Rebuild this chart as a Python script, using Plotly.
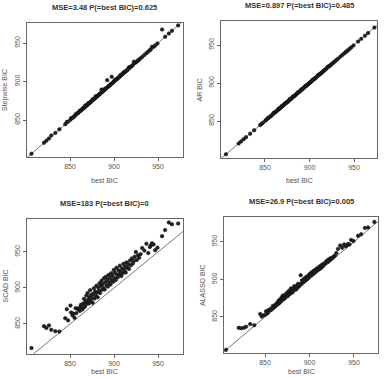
import plotly.graph_objects as go

best_bic = [
    806.2, 820.4, 823.1, 826.0, 828.7, 833.3, 837.9, 844.6, 846.3, 847.8,
    850.5, 851.2, 852.9, 853.6, 855.1, 856.4, 857.0, 858.8, 859.5, 860.9,
    861.7, 862.3, 863.8, 864.4, 865.2, 865.9, 866.7, 867.3, 868.1, 868.6,
    869.4, 870.0, 870.8, 871.5, 872.2, 872.9, 873.6, 874.3, 875.0, 875.7,
    876.5, 877.1, 877.9, 878.6, 879.2, 880.0, 880.7, 881.4, 882.1, 882.9,
    883.5, 884.2, 885.0, 885.8, 886.4, 887.1, 887.9, 888.6, 889.3, 890.1,
    890.8, 891.6, 892.3, 893.0, 893.8, 894.5, 895.2, 896.0, 896.7, 897.4,
    898.2, 899.0, 899.7, 900.5, 901.2, 902.0, 902.8, 903.5, 904.3, 905.1,
    905.9, 906.6, 907.4, 908.3, 909.1, 909.9, 910.8, 911.6, 912.5, 913.3,
    914.2, 915.0, 916.1, 917.0, 918.2, 919.1, 920.3, 921.4, 922.6, 923.5,
    924.8, 925.9, 927.3, 928.6, 930.2, 932.0, 934.5, 936.8, 938.9, 940.7,
    941.9, 943.2, 945.0, 946.8, 949.4, 954.6, 958.1, 962.3, 965.8, 972.9,
]

stepwise_bic = [
    806.2, 820.4, 823.1, 826.0, 829.9, 833.3, 837.9, 844.6, 847.5, 847.8,
    850.5, 852.4, 852.9, 853.6, 855.1, 856.4, 858.3, 858.8, 859.5, 862.0,
    861.7, 862.3, 863.8, 865.3, 865.2, 865.9, 866.7, 869.0, 868.1, 868.6,
    869.4, 870.0, 872.1, 871.5, 872.2, 872.9, 873.6, 874.3, 875.0, 876.9,
    876.5, 877.1, 877.9, 878.6, 881.0, 880.0, 880.7, 881.4, 882.1, 882.9,
    883.5, 884.2, 885.0, 889.5, 886.4, 887.1, 887.9, 888.6, 890.4, 890.1,
    890.8, 891.6, 901.8, 893.0, 893.8, 894.5, 895.2, 896.0, 896.7, 906.1,
    898.2, 899.0, 899.7, 900.5, 902.3, 902.0, 902.8, 903.5, 904.3, 905.1,
    905.9, 906.6, 908.6, 908.3, 909.1, 909.9, 912.0, 911.6, 912.5, 913.3,
    914.2, 915.0, 916.1, 918.6, 918.2, 919.1, 920.3, 921.4, 925.8, 924.1,
    924.8, 925.9, 927.3, 928.6, 930.2, 932.0, 934.5, 936.8, 938.9, 940.7,
    941.9, 945.1, 945.0, 946.8, 949.4, 967.5, 958.1, 962.3, 965.8, 972.9,
]

ar_bic = [
    806.2, 820.4, 823.1, 826.0, 828.7, 833.3, 837.9, 844.6, 846.3, 847.8,
    850.5, 851.2, 853.5, 853.6, 855.1, 856.4, 857.0, 858.8, 860.6, 860.9,
    861.7, 862.3, 863.8, 864.4, 866.0, 865.9, 866.7, 867.3, 868.1, 869.5,
    869.4, 870.0, 870.8, 871.5, 873.0, 872.9, 873.6, 874.3, 875.0, 875.7,
    876.5, 877.1, 878.8, 878.6, 879.2, 880.0, 880.7, 882.2, 882.1, 882.9,
    883.5, 884.2, 885.0, 885.8, 887.3, 887.1, 887.9, 888.6, 889.3, 890.1,
    891.6, 891.6, 892.3, 893.0, 893.8, 894.5, 896.1, 896.0, 896.7, 897.4,
    898.2, 899.0, 899.7, 900.5, 901.2, 902.0, 902.8, 904.4, 904.3, 905.1,
    905.9, 906.6, 907.4, 908.3, 909.1, 910.8, 910.8, 911.6, 912.5, 913.3,
    914.2, 915.0, 916.1, 917.0, 918.2, 919.1, 921.3, 921.4, 922.6, 923.5,
    924.8, 925.9, 927.3, 928.6, 930.2, 932.0, 934.5, 936.8, 938.9, 940.7,
    941.9, 943.2, 945.0, 946.8, 949.4, 954.6, 958.1, 962.3, 965.8, 972.9,
]

scad_bic = [
    816.5, 847.0, 844.5, 848.0, 842.0, 840.0, 839.5, 858.0, 870.5, 855.0,
    875.5, 866.0, 862.0, 864.5, 858.5, 872.0, 865.0, 871.5, 870.0, 868.0,
    873.0, 876.5, 870.0, 878.0, 872.5, 885.0, 874.0, 880.5, 877.0, 889.5,
    881.5, 893.0, 884.0, 878.5, 887.5, 897.0, 882.0, 890.5, 886.0, 879.5,
    892.0, 899.5, 885.5, 895.0, 889.0, 903.0, 893.5, 887.0, 900.5, 896.0,
    906.5, 893.0, 903.0, 910.0, 897.5, 905.5, 900.0, 913.5, 898.0, 908.0,
    915.5, 903.5, 911.0, 902.0, 918.0, 907.5, 914.0, 905.0, 920.5, 910.5,
    917.0, 908.5, 925.0, 913.5, 921.0, 911.0, 928.0, 918.5, 915.0, 924.5,
    919.0, 931.0, 922.5, 916.5, 927.0, 920.5, 933.5, 925.0, 930.0, 921.5,
    935.5, 928.0, 933.0, 926.5, 938.0, 931.5, 941.0, 934.0, 937.5, 943.5,
    950.0, 939.0, 945.5, 942.0, 947.0, 955.5, 952.0, 961.5, 948.5, 957.0,
    959.0, 962.0, 960.5, 952.5, 956.0, 972.0, 980.5, 991.0, 988.5, 989.5,
]

alasso_bic = [
    806.2, 835.5, 835.0, 835.5, 837.0, 840.5, 839.0, 854.0, 850.5, 852.0,
    853.0, 857.5, 855.0, 859.0, 858.5, 861.0, 859.5, 864.5, 862.0, 864.0,
    866.5, 865.0, 869.0, 867.0, 871.5, 868.5, 873.0, 870.0, 872.5, 876.0,
    873.0, 878.5, 874.0, 876.5, 875.0, 880.0, 877.5, 879.0, 882.5, 878.0,
    881.0, 885.0, 880.5, 883.5, 888.0, 884.0, 882.5, 887.5, 885.5, 891.0,
    887.0, 889.5, 886.5, 891.5, 889.0, 894.0, 890.5, 893.0, 893.0, 905.5,
    894.0, 898.5, 896.0, 899.0, 897.5, 901.5, 898.5, 900.0, 903.5, 900.5,
    904.0, 902.5, 906.5, 905.0, 908.0, 905.5, 909.5, 907.0, 911.0, 908.5,
    912.0, 910.0, 913.5, 911.5, 915.0, 913.0, 916.5, 914.0, 918.0, 915.5,
    919.5, 917.5, 921.0, 920.5, 922.0, 924.5, 923.0, 926.5, 925.0, 928.0,
    927.5, 929.0, 930.5, 931.5, 935.0, 940.5, 945.0, 942.0, 946.5, 944.0,
    945.5, 947.0, 946.5, 952.5, 951.0, 958.0, 960.0, 968.5, 969.0, 976.5,
]

titles = [
    "MSE=3.48 P(=best BIC)=0.625",
    "MSE=0.897 P(=best BIC)=0.485",
    "MSE=183 P(=best BIC)=0",
    "MSE=26.9 P(=best BIC)=0.005",
]
ylabels = ["Stepwise BIC", "AR BIC", "SCAD BIC", "ALASSO BIC"]
series = [stepwise_bic, ar_bic, scad_bic, alasso_bic]
tick_vals = [850, 900, 950]

W, H = 385, 377
# panel boxes in pixels: (left, right, top, bottom)
boxes = [(27, 183, 23, 157), (221, 377, 21, 158), (27, 183, 219, 354), (224, 378, 217, 353)]
xranges = [(801.1, 978.4), (800.6, 975.8), (801.1, 978.4), (803.9, 977.0)]
yranges = [(802.0, 976.0), (801.3, 981.6), (808.3, 995.8), (802.0, 983.0)]
xlabel_y = [181, 181, 371, 371]

FONT = "Liberation Sans, Arial, sans-serif"
fig = go.Figure()
layout = dict(
    width=W, height=H, margin=dict(l=0, r=0, t=0, b=0),
    paper_bgcolor="white", plot_bgcolor="white", showlegend=False,
    font=dict(family=FONT, size=7, color="#444"),
)
annotations = []
for i in range(4):
    l, r, t, b = boxes[i]
    xa = "xaxis" if i == 0 else f"xaxis{i+1}"
    ya = "yaxis" if i == 0 else f"yaxis{i+1}"
    xr = "x" if i == 0 else f"x{i+1}"
    yr = "y" if i == 0 else f"y{i+1}"
    axcommon = dict(
        showgrid=False, zeroline=False, showline=True, linecolor="#666", linewidth=1,
        mirror=True, ticks="outside", ticklen=3, tickcolor="#666",
        tickvals=tick_vals, tickfont=dict(size=7, color="#555", family=FONT),
    )
    layout[xa] = dict(axcommon, domain=[l / W, r / W], range=list(xranges[i]), anchor=yr)
    layout[ya] = dict(axcommon, domain=[1 - b / H, 1 - t / H], range=list(yranges[i]),
                      anchor=xr, tickangle=-90)
    fig.add_trace(go.Scatter(
        x=[780, 1000], y=[780, 1000], mode="lines", xaxis=xr, yaxis=yr,
        line=dict(color="#777", width=1), hoverinfo="skip",
    ))
    fig.add_trace(go.Scatter(
        x=best_bic, y=series[i], mode="markers", xaxis=xr, yaxis=yr,
        marker=dict(symbol="circle", size=3.5, color="#222",
                    line=dict(width=0.6, color="#111")),
    ))
    cx = (l + r) / 2 / W
    annotations.append(dict(text="<b>" + titles[i] + "</b>", x=cx, y=1 - (t - 16) / H,
                            xref="paper", yref="paper", showarrow=False,
                            font=dict(size=7.5, color="#333", family=FONT),
                            xanchor="center", yanchor="middle"))
    annotations.append(dict(text="best BIC", x=cx, y=1 - xlabel_y[i] / H,
                            xref="paper", yref="paper", showarrow=False,
                            font=dict(size=7, color="#555", family=FONT),
                            xanchor="center", yanchor="middle"))
    annotations.append(dict(text=ylabels[i], x=(l - 22) / W, y=1 - (t + b) / 2 / H,
                            xref="paper", yref="paper", showarrow=False, textangle=-90,
                            font=dict(size=7, color="#555", family=FONT),
                            xanchor="center", yanchor="middle"))
layout["annotations"] = annotations
fig.update_layout(**layout)
fig.write_html("out.html")
